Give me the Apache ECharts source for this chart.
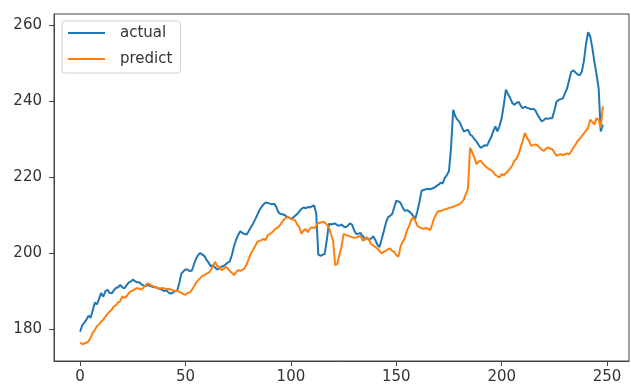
<!DOCTYPE html>
<html>
<head>
<meta charset="utf-8">
<script src="https://cdn.jsdelivr.net/npm/echarts@6/dist/echarts.min.js"></script>
<style>html,body{margin:0;padding:0;background:#fff}#c{width:631px;height:390px}</style>
</head>
<body>
<div id="c"></div>
<script>
var seriesNames = ['actual', 'predict'];
var xTicks = [0, 50, 100, 150, 200, 250];
var yTicks = [180, 200, 220, 240, 260];
var actual = [
179.3,181,181.7,182.5,183.5,183,185,187,186.5,188,
189.5,188.5,190,190.3,189.5,189.4,190.2,190.8,191,191.6,
191,190.7,191.5,192.2,192.5,193,192.6,192.3,192.3,191.8,
191.5,191.3,191.6,191.4,191.2,191,191,190.7,190.5,190.3,
190,190.2,189.6,189.3,189.6,190,190,192,194.6,195.2,
195.7,195.7,195.2,195.4,197,198.5,199.5,200,199.6,199.2,
198.2,197.4,196.5,196.8,196.2,195.7,196,196.4,196.6,197,
197.5,197.8,199.5,201.8,203.5,204.8,205.7,205.3,205,204.9,
205.8,206.8,207.7,208.8,210,211.2,212.1,212.8,213.3,213.2,
213,212.8,213,212.2,210.8,210.3,210.2,210,209.6,209.3,
209,209.3,209.8,210.3,211,211.6,212,211.8,212.1,212,
212.3,212.5,210.5,199.6,199.3,199.5,199.8,203.3,207.7,207.5,
207.7,207.8,207.3,207.2,207.5,207,206.8,207.2,207.8,207.5,
206,205,205.1,205.3,204.5,203.8,203.9,203.6,203.8,204.4,
203.5,202.2,201.6,203.5,205.6,207.8,209.4,209.8,210.2,212,
213.8,213.6,213.2,212,211.1,211.3,211,210.5,209.8,209,
211,213.5,216.4,216.6,216.8,216.9,216.8,217,217.2,217.6,
218,218.5,218.3,219.8,220.5,221.6,228,237.7,236,235.1,
234.5,233.2,232,232.2,232.5,231.2,230.8,230,229.4,228.5,
227.7,228,228.4,228.2,229.4,230.5,232,233.3,232,233.5,
235.5,239,243,241.8,240.8,239.5,239,239.5,239.8,238.8,
238.1,238.5,238.2,238.1,237.8,238,237.5,236.4,235.5,234.6,
235,235.5,235.3,235.5,235.5,237.5,239.8,240.3,240.5,240.7,
242,243.3,245.5,247.7,248.1,247.5,247,246.8,247.7,250.5,
255,258.1,257,254,250.3,247,243.3,232,233.8
];
var predict = [
176.5,176,176.2,176.4,176.8,177.8,179,179.8,180.8,181.2,
182,182.5,183.3,184,184.6,185.1,186,186.3,187,187.3,
188.6,188.2,188.6,189.4,189.9,190.2,190.5,190.8,190.6,190.4,
190.9,191.5,192,191.8,191.4,191.2,191,190.8,190.7,190.8,
190.7,190.5,190.6,190.4,190.2,190,190.1,189.8,189.5,189.2,
189,189.5,189.6,190.3,191.2,192.2,192.8,193.4,194,194.2,
194.6,194.8,195.5,196.5,197.7,196.6,196.4,195.5,195.8,196.4,
196,195.3,194.8,194.2,195,195.5,195.3,195.6,195.9,197,
198.5,199.9,200.8,201.8,202.9,203.2,203.4,203.7,203.4,204.7,
205,205.4,206,206.5,206.8,207.5,208.3,209,209.3,209.4,
209,208.8,208.6,207.5,206.8,205.1,205.9,206.3,205.5,206.4,
206.8,206.5,207.2,207.9,208,208.2,208.1,207.5,206.8,205,
203.3,196.8,197.2,199.5,201.6,205,204.8,204.6,204.4,204.2,
204,204.1,204.3,204.6,203.3,203.5,204.2,203.5,202.4,202,
201.6,201.2,200.6,199.9,200.3,200.6,201,201.2,200.6,200.3,
199.5,199,201.6,203,203.8,205.9,207,208.6,209.4,208.5,
207.2,206.8,206.5,206.4,206.6,206.4,206,207.5,209.2,210.3,
211.1,211,211.3,211.5,211.6,211.9,212,212.2,212.4,212.6,
212.9,213.3,214.1,215.5,216.9,227.7,226.5,225.2,223.4,224,
224.3,223.6,223,222.5,222.1,221.8,221.3,220.6,220.2,219.9,
220.8,220.5,221,221.6,222.3,223,224.3,224.8,226,227.8,
229.5,231.6,230.3,229.5,228.2,228.4,228.6,228.3,227.8,227.2,
226.9,227.5,227.8,227.5,227.3,226.5,225.6,225.9,226,225.8,
226,226.2,226,226.8,227.7,228.5,229.5,230,230.8,231.5,
232.2,233,235.1,234.5,233.8,235.5,235,233,238.6
];

function pairs(arr) { return arr.map(function (v, i) { return [i, v]; }); }

var chart = echarts.init(document.getElementById('c'), null, {renderer: 'canvas'});
var font = 'DejaVu Sans';
chart.setOption({
  animation: false,
  backgroundColor: '#ffffff',
  grid: {left: 54, right: 2, top: 14, bottom: 29, show: true, borderColor: '#444', borderWidth: 1, backgroundColor: '#fff'},
  legend: {
    orient: 'vertical', left: 62, top: 21,
    data: seriesNames,
    icon: 'rect', itemWidth: 37, itemHeight: 2, itemGap: 8,
    padding: [3, 8, 5, 6],
    backgroundColor: '#fff', borderColor: '#d0d0d0', borderWidth: 1, borderRadius: 3,
    textStyle: {fontFamily: font, fontSize: 15, color: '#333', lineHeight: 18, padding: [0, 0, 0, 10]}
  },
  xAxis: {
    type: 'value', min: -12.4, max: 260.4,
    axisLine: {show: true, onZero: false, lineStyle: {color: '#444', width: 1}},
    axisTick: {show: true, inside: false, length: 5, lineStyle: {color: '#444'}, customValues: xTicks},
    axisLabel: {fontFamily: font, fontSize: 15, color: '#333', margin: 9, customValues: xTicks},
    splitLine: {show: false}
  },
  yAxis: {
    type: 'value', min: 171.6, max: 262.9,
    axisLine: {show: true, onZero: false, lineStyle: {color: '#444', width: 1}},
    axisTick: {show: true, inside: false, length: 5, lineStyle: {color: '#444'}, customValues: yTicks},
    axisLabel: {fontFamily: font, fontSize: 15, color: '#333', margin: 12, customValues: yTicks},
    splitLine: {show: false}
  },
  series: [
    {name: seriesNames[0], type: 'line', data: pairs(actual), symbol: 'none', lineStyle: {color: '#1f77b4', width: 2}, itemStyle: {color: '#1f77b4'}},
    {name: seriesNames[1], type: 'line', data: pairs(predict), symbol: 'none', lineStyle: {color: '#ff7f0e', width: 2}, itemStyle: {color: '#ff7f0e'}}
  ]
});
</script>
</body>
</html>
